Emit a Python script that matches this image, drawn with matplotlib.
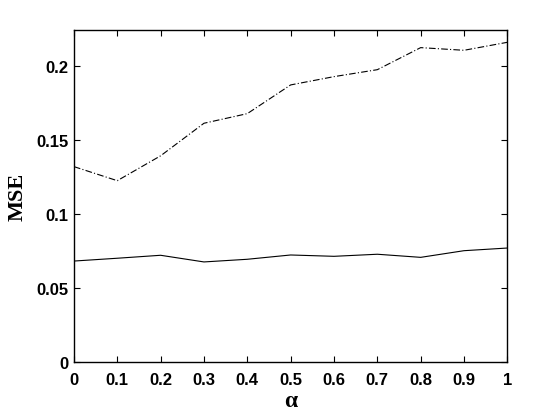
import matplotlib
matplotlib.use("Agg")
import matplotlib.pyplot as plt

# values
alpha = [0.0, 0.1, 0.2, 0.3, 0.4, 0.5, 0.6, 0.7, 0.8, 0.9, 1.0]
mse_upper = [0.1322, 0.1227, 0.1395, 0.1615, 0.1680, 0.1874, 0.1930, 0.1977, 0.2126, 0.2108, 0.2162]
mse_lower = [0.0684, 0.0703, 0.0723, 0.0678, 0.0696, 0.0725, 0.0716, 0.0730, 0.0709, 0.0754, 0.0772]

xticks = [0, 0.1, 0.2, 0.3, 0.4, 0.5, 0.6, 0.7, 0.8, 0.9, 1]
xticklabels = ['0', '0.1', '0.2', '0.3', '0.4', '0.5', '0.6', '0.7', '0.8', '0.9', '1']
yticks = [0, 0.05, 0.1, 0.15, 0.2]
yticklabels = ['0', '0.05', '0.1', '0.15', '0.2']

fig = plt.figure(figsize=(5.6, 4.14), dpi=100)
ax = fig.add_axes([0.132, 0.1225, 0.774, 0.8033])

ax.plot(alpha, mse_upper, color='k', lw=0.8, linestyle=(0, (6, 2, 1, 2)))
ax.plot(alpha, mse_lower, color='k', lw=0.8, linestyle='-')

ax.set_xlim(0, 1)
ax.set_ylim(0, 0.2247)
ax.set_xticks(xticks)
ax.set_xticklabels(xticklabels)
ax.set_yticks(yticks)
ax.set_yticklabels(yticklabels)

for lab in ax.get_xticklabels() + ax.get_yticklabels():
    lab.set_fontfamily('Liberation Sans')
    lab.set_fontweight('bold')
    lab.set_fontsize(12)

ax.tick_params(direction='in', length=4, width=0.8, top=True, right=True)
ax.tick_params(axis='x', pad=7)
ax.tick_params(axis='y', pad=4)
for sp in ax.spines.values():
    sp.set_linewidth(1.0)

ax.set_ylabel('MSE', fontfamily='Liberation Serif', fontweight='bold', fontsize=16)
ax.yaxis.label.set_va('center')
ax.yaxis.set_label_coords(-0.131, 0.5)

ax.set_xlabel('α', fontfamily='Liberation Serif', fontweight='bold', fontsize=17)
ax.xaxis.label.set_va('baseline')
ax.xaxis.set_label_coords(0.5, -0.131)

fig.savefig('out.png', dpi=100)
